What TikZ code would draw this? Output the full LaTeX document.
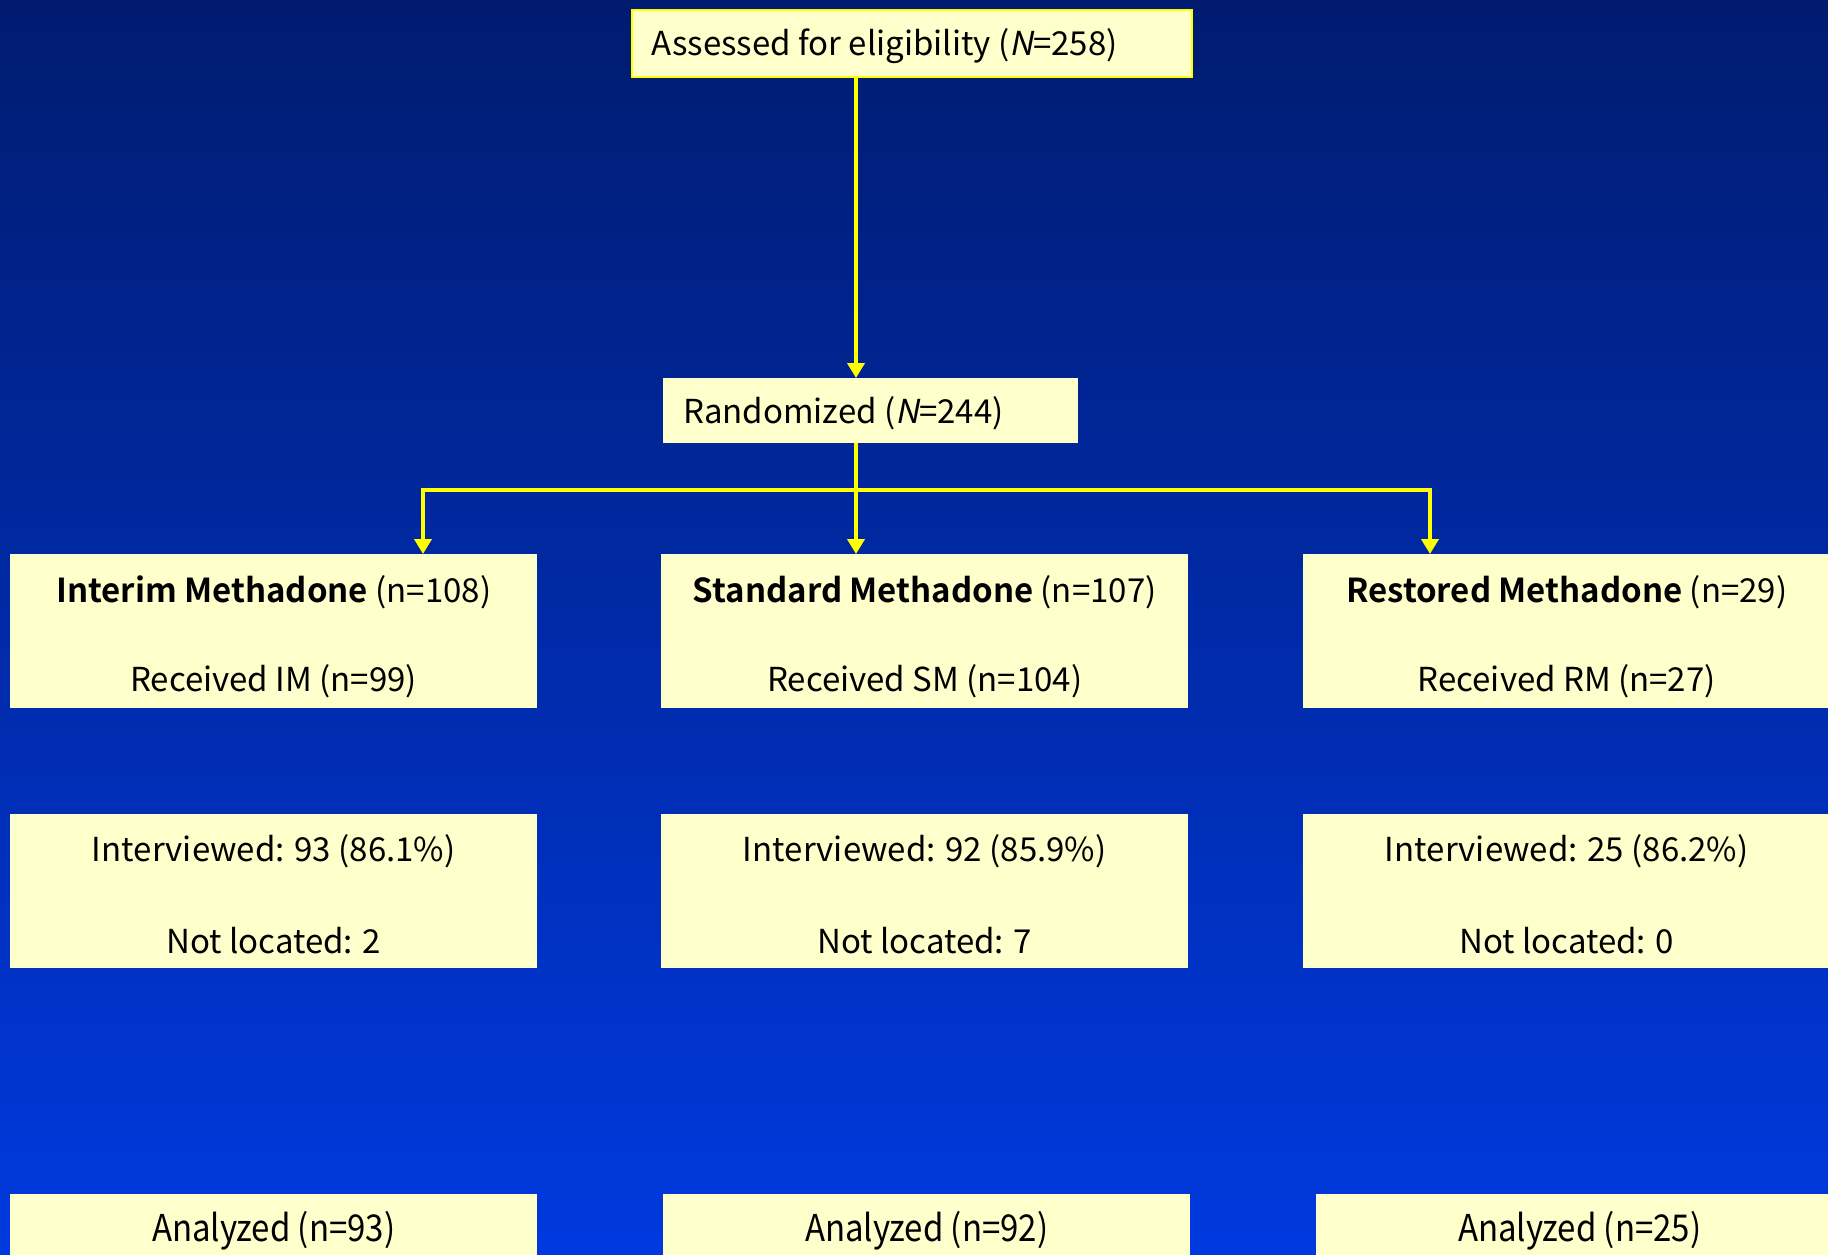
\documentclass[tikz,border=0pt]{standalone}
\usepackage{fontspec}
\setmainfont{Noto Sans CJK JP}[BoldFont={Noto Sans CJK JP Bold}, ItalicFont={Noto Sans CJK JP}, ItalicFeatures={FakeSlant=0.2}]
\usetikzlibrary{arrows.meta}
\definecolor{bgtop}{HTML}{001B70}
\definecolor{bgbot}{HTML}{0039DF}
\definecolor{boxfill}{HTML}{FFFFCC}
\definecolor{lineyellow}{HTML}{FFFF00}
\tikzset{
  box/.style={fill=boxfill, draw=none, anchor=north west, minimum width=527pt, minimum height=154pt, inner sep=0pt},
  headbox/.style={fill=boxfill, anchor=north west, align=left, inner ysep=0pt, inner xsep=20pt},
  txt/.style={font=\fontsize{33}{38}\selectfont, text=black, inner sep=0pt},
  conn/.style={draw=lineyellow, line width=4.5pt, line join=miter},
  arr/.style={conn, -{Triangle[width=17pt,length=15pt]}},
}
\begin{document}
\begin{tikzpicture}[x=1pt,y=-1pt]
\useasboundingbox (0,0) rectangle (1828,1255);
\shade[top color=bgtop,bottom color=bgbot] (0,0) rectangle (1828,1255);

% header boxes
\node[headbox, draw=lineyellow, line width=2pt, minimum width=560pt, minimum height=67pt, inner sep=0pt] (assess) at (631,9) {};
\node[txt, anchor=west] (assesst) at ([xshift=20pt, yshift=-3pt]assess.west) {Assessed for eligibility (\textit{N}=258)};
\node[headbox, minimum width=415pt, minimum height=65pt, inner sep=0pt] (rand) at (663,378) {};
\node[txt, anchor=west] (randt) at ([xshift=20pt, yshift=-3pt]rand.west) {Randomized (\textit{N}=244)};

% row 1
\node[box] (im) at (10,554) {};
\node[box] (sm) at (661,554) {};
\node[box] (rm) at (1303,554) {};
\node[txt] (imt) at ([yshift=39pt]im.center) {\textbf{Interim Methadone} (n=108)};
\node[txt] (imr) at ([yshift=-50pt]im.center) {Received IM (n=99)};
\node[txt] (smt) at ([yshift=39pt]sm.center) {\textbf{Standard Methadone} (n=107)};
\node[txt] (smr) at ([yshift=-50pt]sm.center) {Received SM (n=104)};
\node[txt] (rmt) at ([yshift=39pt]rm.center) {\textbf{Restored Methadone} (n=29)};
\node[txt] (rmr) at ([yshift=-50pt]rm.center) {Received RM (n=27)};

% row 2
\node[box] (imi) at (10,814) {};
\node[box] (smi) at (661,814) {};
\node[box] (rmi) at (1303,814) {};
\node[txt] (imi1) at ([yshift=40pt]imi.center) {Interviewed: 93 (86.1\%)};
\node[txt] (imi2) at ([yshift=-49pt]imi.center) {Not located: 2};
\node[txt] (smi1) at ([yshift=40pt]smi.center) {Interviewed: 92 (85.9\%)};
\node[txt] (smi2) at ([yshift=-49pt]smi.center) {Not located: 7};
\node[txt] (rmi1) at ([yshift=40pt]rmi.center) {Interviewed: 25 (86.2\%)};
\node[txt] (rmi2) at ([yshift=-49pt]rmi.center) {Not located: 0};

% row 3
\node[box] (ima) at (10,1194) {};
\node[box] (sma) at (663,1194) {};
\node[box] (rma) at (1316,1194) {};
\node[txt] (ima1) at ([yshift=-37pt]ima.north) {\scalebox{1}[1.12]{Analyzed (n=93)}};
\node[txt] (sma1) at ([yshift=-37pt]sma.north) {\scalebox{1}[1.12]{Analyzed (n=92)}};
\node[txt] (rma1) at ([yshift=-37pt]rma.north) {\scalebox{1}[1.12]{Analyzed (n=25)}};

% connectors
\coordinate (split) at (856,490);
\coordinate (lft) at (423,490);
\coordinate (rgt) at (1430,490);
\draw[arr] (assess.south -| split) -- (rand.north -| split);
\draw[arr] (rand.south -| split) -- (sm.north -| split);
\draw[arr] (split) -- (lft) -- (lft |- im.north);
\draw[arr] (split) -- (rgt) -- (rgt |- rm.north);
\end{tikzpicture}
\end{document}
